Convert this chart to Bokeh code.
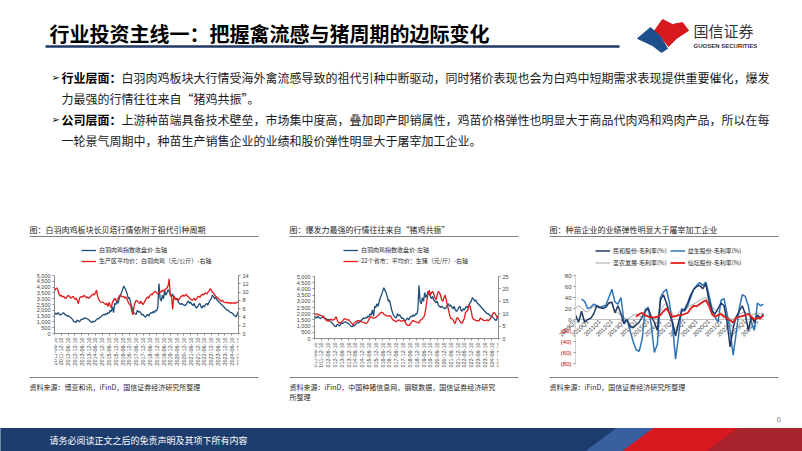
import math
from bokeh.plotting import figure
from bokeh.models import (Range1d, LinearAxis, FixedTicker, NumeralTickFormatter,
                          Legend, LegendItem, ColumnDataSource, LabelSet)
from bokeh.layouts import column, row
from bokeh.embed import file_html
from bokeh.resources import INLINE
from bokeh.core.properties import value

CJK = "Noto Sans CJK SC"
NUM = "Liberation Sans"

# ---------------- data ----------------
date_ticks = [0, 6, 12, 18, 24, 30, 36, 42, 48, 54, 60, 66, 72, 78, 84, 90, 96, 102,
              108, 114, 120, 126, 132, 138, 144, 150, 156, 162]
date_labels = ["2011-06-10", "2011-12-10", "2012-06-10", "2012-12-10", "2013-06-10", "2013-12-10",
               "2014-06-10", "2014-12-10", "2015-06-10", "2015-12-10", "2016-06-10", "2016-12-10",
               "2017-06-10", "2017-12-10", "2018-06-10", "2018-12-10", "2019-06-10", "2019-12-10",
               "2020-06-10", "2020-12-10", "2021-06-10", "2021-12-10", "2022-06-10", "2022-12-10",
               "2023-06-10", "2023-12-10", "2024-06-10", "2024-12-10"]

# monthly, 2011-06 .. 2024-12
broiler_index = [
    1600, 1750, 1650, 1800, 1700, 1600, 1650,
    1700, 1800, 1650, 1600, 1500, 1550, 1450, 1400, 1300, 1200, 1050, 1000,
    950, 1150, 1100, 1000, 1150, 1250, 1200, 1300, 1350, 1300, 1250, 1200,
    1100, 1000, 950, 1050, 1000, 1100, 1200, 1300, 1250, 1400, 1450, 1550,
    1650, 1600, 1700, 1650, 1800, 1750, 2000, 1900, 2300, 1800, 2600, 2500,
    2800, 2600, 3000, 3300, 3500, 3800, 4100, 3900, 3700, 3400, 3000, 3100,
    2700, 2300, 2000, 1800, 1700, 1650, 2000, 1850, 1900, 1750, 1600, 1650,
    1500, 1400, 1550, 1650, 1500, 1700, 1800, 1750, 1900, 1800, 2000, 1950,
    2300, 4300, 3000, 2800, 3300, 3000, 3700, 3300, 3500, 3800, 3600, 3400,
    3200, 3400, 3100, 3000, 2900, 3000, 2700, 2600, 2500, 2600, 2500, 2450,
    2400, 2500, 2700, 2800, 2600, 2700, 2500, 2400, 2600, 2300, 2200, 2300,
    2500, 2600, 2300, 2200, 2400, 2300, 2500, 2600, 2450, 2700, 2900, 3000,
    3300, 3200, 3000, 3100, 2900, 2800, 2700, 2600, 2500, 2400, 2300, 2200,
    2100, 2000, 2000, 1900, 1800, 1800, 1700, 1600, 1500, 1450, 1700, 1900]

broiler_price = [
    10.2, 10.8, 11.0, 10.5, 9.5, 9.0, 9.3,
    8.8, 9.0, 8.6, 8.5, 8.8, 9.2, 9.0, 8.7, 8.5, 9.0, 8.8, 8.2,
    8.5, 8.0, 7.2, 8.5, 8.8, 9.0, 8.8, 9.2, 9.0, 8.6, 8.8, 8.5,
    8.7, 9.0, 9.3, 9.5, 9.3, 9.8, 10.5, 9.0, 8.2, 7.8, 7.5, 7.6,
    7.5, 7.2, 7.0, 7.3, 6.5, 7.5, 6.8, 6.2, 7.5, 8.0, 8.5, 8.0,
    8.0, 8.5, 9.0, 9.3, 9.0, 8.8, 9.0, 8.5, 8.8, 8.2, 7.5, 7.0,
    6.8, 5.5, 4.5, 6.5, 7.5, 8.0, 7.8, 7.5, 7.2, 7.8, 7.3, 7.0,
    7.5, 8.0, 8.5, 8.8, 8.5, 9.2, 9.5, 9.3, 9.8, 10.0, 10.2, 9.8,
    9.5, 9.8, 10.2, 10.0, 10.5, 10.2, 10.5, 10.8, 11.0, 11.5, 13.2, 9.0,
    9.2, 5.8, 9.0, 8.6, 8.2, 8.5, 8.0, 8.3, 8.8, 9.0, 9.3, 9.0,
    9.2, 9.5, 9.0, 8.8, 8.5, 8.3, 8.0, 8.2, 8.5, 8.0, 8.3, 8.8,
    9.0, 8.7, 9.2, 9.5, 9.3, 9.6, 9.8, 9.5, 9.9, 10.3, 10.8, 10.5,
    10.0, 9.8, 9.3, 9.0, 8.7, 8.5, 8.2, 8.0, 7.8, 8.0, 7.6, 7.5,
    7.4, 7.6, 7.3, 7.5, 7.2, 7.4, 7.3, 7.5, 7.2, 7.4, 7.6, 7.8]

hog_price = [
    9.5, 9.8, 9.9, 9.7, 9.5, 9.3, 9.2,
    9.0, 8.6, 8.0, 7.5, 7.2, 7.0, 7.3, 7.8, 7.6, 7.4, 7.6, 8.0,
    8.8, 7.6, 6.5, 6.2, 6.4, 6.8, 7.2, 7.8, 8.0, 7.6, 7.5, 7.6,
    7.0, 6.5, 6.0, 5.5, 6.2, 6.6, 6.9, 7.2, 7.2, 7.0, 6.8, 6.6,
    6.5, 6.4, 6.0, 6.2, 6.8, 7.8, 8.6, 8.8, 8.4, 8.2, 8.3, 8.6,
    9.0, 9.3, 9.8, 10.3, 10.5, 10.4, 9.8, 9.5, 9.3, 9.0, 9.0, 9.2,
    9.0, 8.2, 7.5, 7.3, 7.0, 6.8, 7.2, 7.4, 7.4, 7.0, 7.0, 7.2,
    7.2, 6.5, 5.6, 5.4, 5.2, 5.5, 6.4, 7.0, 7.3, 6.9, 6.8, 6.6,
    6.5, 6.2, 7.3, 7.6, 8.0, 8.5, 9.5, 12.0, 15.5, 18.0, 19.5, 17.5,
    18.5, 19.0, 18.0, 16.5, 15.5, 17.5, 19.0, 18.5, 17.5, 15.5, 15.0, 16.5,
    17.5, 15.5, 13.5, 11.5, 9.5, 8.0, 8.0, 7.5, 6.5, 6.0, 8.0, 8.5,
    7.6, 7.0, 6.3, 6.2, 7.2, 8.2, 10.5, 11.0, 11.5, 13.5, 13.0, 11.0,
    8.5, 7.7, 7.5, 7.3, 7.2, 7.0, 7.3, 8.2, 8.0, 7.6, 7.3, 7.2,
    7.3, 7.5, 7.2, 7.5, 8.0, 9.0, 10.0, 10.5, 10.0, 9.2, 8.4, 8.0]

# quarterly 2009Q1 .. 2024Q3, gross margin (%)
quarter_ticks = [0, 4, 8, 12, 16, 20, 24, 28, 32, 36, 40, 44, 48, 52, 56, 60]
quarter_labels = ["2009Q1", "2010Q1", "2011Q1", "2012Q1", "2013Q1", "2014Q1", "2015Q1", "2016Q1",
                  "2017Q1", "2018Q1", "2019Q1", "2020Q1", "2021Q1", "2022Q1", "2023Q1", "2024Q1"]
NaN = float("nan")
minhe = [8, -5, 15, -5, 0, 2, 10, 25, 22, 20, 22, 30, 32, 12, 25, 10, -8, 0, -12, -15,
         -10, -5, 5, 15, 20, 5, -5, -20, 35, 45, 30, 10, -5, -30, -5, 15, 18, 30, 45, 55,
         60, 62, 56, 65, 35, 15, 10, 20, 30, 25, -5, -50, -15, 5, 15, 25, 10, -20, 5, -5,
         8, 3, 10]
yisheng = [NaN, NaN, 37, 33, 20, 22, 28, 25, 22, 24, 26, 40, 55, 32, 28, 40, -5, 0, -20, -40,
           -55, -58, -35, 18, 22, -10, -60, -45, 40, 50, 55, 30, -10, -72, -30, 20, 15, 25, 40, 55,
           62, 67, 62, 68, 45, 20, 5, -5, 35, 38, 10, -20, -65, -25, 20, 45, 42, 25, -5, -20,
           30, 25, 28]
shengnong = [20, 25, 22, 15, 14, 20, 24, 22, 20, 22, 25, 30, 28, 15, 12, 8, 3, 0, 3, 8,
             10, 7, 4, 6, 8, 5, 2, 0, 15, 25, 30, 20, 10, 5, 12, 18, 20, 22, 26, 28,
             32, 35, 38, 40, 30, 22, 18, 15, 12, 8, 5, 2, 0, 5, 10, 12, 14, 10, 8, 10,
             12, 10, 12]
xiantan = [NaN] * 20 + [5, 10, 12, 8, 5, 4, 4, 5, 8, 15, 20, 12, 5, 6, 8, 8, 10, 12, 20, 25,
                        24, 28, 32, 35, 25, 10, 5, 8, 10, 5, 2, -2, -5, 3, 5, 6, 8, 10, 5, 0,
                        3, 2, 8]
margin_ticks = [-80, -60, -40, -20, 0, 20, 40, 60, 80]

# ---------------- styles / layout ----------------
BLUE = "#1f4e79"
RED = "#e31a1c"
AX = "#8c8c8c"
TXT = "#262626"
ROW_Y = 242
ROW_H = 133
# Bokeh aligns the frames of the plots in a row, so all three share one frame
FR_TOP = 245
FR_BOT = 367
BT = FR_TOP - ROW_Y
BB = ROW_Y + ROW_H - FR_BOT
FR_H = FR_BOT - FR_TOP


def blank(width, height, y0):
    p = figure(width=width, height=height, x_range=Range1d(0, width),
               y_range=Range1d(y0 + height, y0), x_axis_location=None, y_axis_location=None,
               toolbar_location=None, output_backend="svg", min_border=0,
               outline_line_color=None)
    p.grid.visible = False
    return p


def txt(p, x, y, s, size, color="#000000", bold=False, font=CJK, align="left"):
    p.text(x=[x], y=[y], text=[s], text_font=value(font), text_font_size=size,
           text_color=color, text_font_style="bold" if bold else "normal",
           text_baseline="middle", text_align=align)


def style_axis(a, size="5.5px"):
    a.axis_line_color = AX
    a.major_tick_line_color = AX
    a.major_tick_out = 2
    a.major_tick_in = 0
    a.minor_tick_line_color = None
    a.major_label_text_font = NUM
    a.major_label_text_font_size = size
    a.major_label_text_color = "#404040"
    a.major_label_standoff = 2


def span_range(lo, hi, px_lo, px_hi):
    """Value range of the whole frame when lo sits at pixel px_lo and hi at px_hi (page y)."""
    per_px = (hi - lo) / (px_lo - px_hi)
    return lo - (FR_BOT - px_lo) * per_px, hi + (px_hi - FR_TOP) * per_px


def dual_chart(red_vals, red_max, red_step, left_label, red_label, width, bl, br, d_top, d_bot, leg_x):
    n = len(broiler_index)
    xs = list(range(n))
    y0, y1 = span_range(0, 5000, d_bot, d_top)
    r0, r1_ = span_range(0, red_max, d_bot, d_top)
    p = figure(width=width, height=ROW_H, x_range=Range1d(0, n - 1), y_range=Range1d(y0, y1),
               toolbar_location=None, output_backend="svg", min_border_left=bl,
               min_border_right=br, min_border_top=BT, min_border_bottom=BB,
               outline_line_color=None)
    p.grid.visible = False
    p.extra_y_ranges = {"r": Range1d(r0, r1_)}
    # date labels under the axis
    per_px = 5000 / (d_bot - d_top)
    p.text(x=date_ticks, y=[-4 * per_px] * len(date_ticks), text=date_labels, angle=math.pi / 2,
           text_align="right", text_baseline="middle", text_font=value(NUM),
           text_font_size="5.5px", text_color="#404040")
    r1 = p.line(xs, broiler_index, line_color=BLUE, line_width=1.3)
    r2 = p.line(xs, red_vals, line_color=RED, line_width=1.3, y_range_name="r")
    ax = p.yaxis[0]
    ax.ticker = FixedTicker(ticks=list(range(0, 5001, 500)))
    ax.formatter = NumeralTickFormatter(format="0,0")
    ax.bounds = (0, 5000)
    style_axis(ax)
    rax = LinearAxis(y_range_name="r", ticker=FixedTicker(ticks=list(range(0, red_max + 1, red_step))),
                     bounds=(0, red_max))
    style_axis(rax)
    p.add_layout(rax, "right")
    xa = p.xaxis[0]
    xa.ticker = FixedTicker(ticks=date_ticks)
    xa.fixed_location = 0
    style_axis(xa)
    xa.major_label_overrides = {t: "" for t in date_ticks}
    xa.major_label_text_font_size = "0px"
    xa.major_label_standoff = 0
    leg = Legend(items=[LegendItem(label=left_label, renderers=[r1]),
                        LegendItem(label=red_label, renderers=[r2])],
                 location=(leg_x, FR_BOT - 265), orientation="vertical", padding=0, margin=0,
                 spacing=2, glyph_width=15, glyph_height=8, label_height=8, label_standoff=3,
                 label_text_font=CJK, label_text_font_size="6px", label_text_color=TXT,
                 border_line_color=None, background_fill_alpha=0)
    p.add_layout(leg)
    return p


# ---------------- header ----------------
hdr = blank(802, ROW_Y, 0)
txt(hdr, 49, 33, "行业投资主线一：把握禽流感与猪周期的边际变化", "20px", bold=True)
hdr.line([45, 619], [46, 46], line_color="#1f3864", line_width=2.5)
hdr.patch([652, 662, 672, 682, 688, 676, 668, 661], [33, 19, 24, 22, 30, 38, 46, 37], color="#d7191f")
hdr.patch([637, 650, 660, 667, 661, 652], [38, 27, 36, 48, 52, 45], color="#1f4e8c")
txt(hdr, 693, 30, "国信证券", "15px", color="#333333")
txt(hdr, 693, 45, "GUOSEN SECURITIES", "6px", color="#333333", bold=True, font=NUM)

FS = 12
bullets = [
    (77, True, "行业层面：", "白羽肉鸡板块大行情受海外禽流感导致的祖代引种中断驱动，同时猪价表现也会为白鸡中短期需求表现提供重要催化，爆发"),
    (98, False, "", "力最强的行情往往来自“猪鸡共振”。"),
    (119, True, "公司层面：", "上游种苗端具备技术壁垒，市场集中度高，叠加即产即销属性，鸡苗价格弹性也明显大于商品代肉鸡和鸡肉产品，所以在每"),
    (140, False, "", "一轮景气周期中，种苗生产销售企业的业绩和股价弹性明显大于屠宰加工企业。"),
]
for y, has_bullet, head, body in bullets:
    x = 61
    if has_bullet:
        txt(hdr, 51, y, "➢", "10px", font="DejaVu Sans")
        txt(hdr, x, y, head, f"{FS}px", bold=True)
        x += FS * len(head)
    txt(hdr, x, y, body, f"{FS}px", color="#1a1a1a")

chart_titles = ["图：白羽肉鸡板块长贝塔行情依附于祖代引种周期",
                "图：爆发力最强的行情往往来自“猪鸡共振”",
                "图：种苗企业的业绩弹性明显大于屠宰加工企业"]
panel_x = [29, 289, 549]
for x0, t in zip(panel_x, chart_titles):
    txt(hdr, x0, 229, t, "8px", color=TXT)
    hdr.line([x0, x0 + 229], [236, 236], line_color="#808080", line_width=1)

# ---------------- charts ----------------
p1 = dual_chart(broiler_price, 14, 2, "白羽肉鸡指数收盘价-左轴", "生产区平均价：白羽肉鸡（元/公斤）-右轴",
                262, 54, 24, 275, 333, 27)
p2 = dual_chart(hog_price, 25, 5, "白羽肉鸡指数收盘价-左轴", "22个省市：平均价：生猪（元/斤）-右轴",
                260, 52, 24, 276, 338, 29)

# chart 3: frame extends left (room for the red negative labels)
n_q = len(minhe)
bl3, br3 = 26, 36
frame_w3 = 280 - bl3 - br3
data_w3 = 191
px_per_q = data_w3 / n_q
m0, m1 = span_range(-80, 80, 363, 275)
p3 = figure(width=280, height=ROW_H,
            x_range=Range1d(-(frame_w3 - data_w3) / px_per_q, n_q),
            y_range=Range1d(m0, m1),
            toolbar_location=None, output_backend="svg", x_axis_location=None,
            min_border_left=bl3, min_border_right=br3, min_border_top=BT, min_border_bottom=BB,
            outline_line_color=None)
p3.grid.visible = False
qx = list(range(n_q))
p3.line([qx[0], qx[-1]], [0, 0], line_color="#bfbfbf", line_width=1)
p3.text(x=quarter_ticks, y=[-2] * len(quarter_ticks), text=quarter_labels, angle=math.pi / 4,
        text_align="right", text_baseline="middle", text_font=value(NUM),
        text_font_size="6px", text_color="#404040")
ra = p3.line(qx, shengnong, line_color="#a6a6a6", line_width=1.0)
rb = p3.line(qx, yisheng, line_color="#2e75b6", line_width=1.5)
rc = p3.line(qx, minhe, line_color="#1f3864", line_width=1.5)
rd = p3.line(qx, xiantan, line_color="#e0201b", line_width=1.8)
ay = p3.yaxis[0]
ay.ticker = FixedTicker(ticks=margin_ticks)
ay.major_label_overrides = {t: ("" if t < 0 else str(t)) for t in margin_ticks}
ay.fixed_location = 0
ay.bounds = (-80, 80)
style_axis(ay, "6px")
ay.axis_line_color = "#d0d0d0"
neg = [t for t in margin_ticks if t < 0]
neg_src = ColumnDataSource(dict(x=[-4 / px_per_q] * len(neg), y=neg, text=[f"({-t})" for t in neg]))
p3.add_layout(LabelSet(x="x", y="y", text="text", source=neg_src,
                       text_align="right", text_baseline="middle", text_font=value(NUM),
                       text_font_size="6px", text_color="#c00000"))
legend_kw = dict(orientation="horizontal", padding=0, margin=0, spacing=3, glyph_width=15,
                 glyph_height=9, label_height=9, label_standoff=3, label_text_font=CJK,
                 label_text_font_size="6px", label_text_color=TXT, border_line_color=None,
                 background_fill_alpha=0)
lx = (frame_w3 - data_w3) + 20
p3.add_layout(Legend(items=[LegendItem(label="民和股份-毛利率(%)", renderers=[rc]),
                            LegendItem(label="益生股份-毛利率(%)", renderers=[rb])],
                     location=(lx, FR_BOT - 254.5), **legend_kw))
p3.add_layout(Legend(items=[LegendItem(label="圣农发展-毛利率(%)", renderers=[ra]),
                            LegendItem(label="仙坛股份-毛利率(%)", renderers=[rd])],
                     location=(lx, FR_BOT - 266.5), **legend_kw))

# ---------------- footer ----------------
FY = ROW_Y + ROW_H
ftr = blank(802, 451 - FY, FY)
sources = [["资料来源：博亚和讯，iFinD，国信证券经济研究所整理"],
           ["资料来源：iFinD，中国种猪信息网，钢联数据，国信证券经济研究", "所整理"],
           ["资料来源：iFinD，国信证券经济研究所整理"]]
for x0, lines in zip(panel_x, sources):
    ftr.line([x0, x0 + 229], [377, 377], line_color="#808080", line_width=1.2)
    for k, s in enumerate(lines):
        txt(ftr, x0, 386 + 10 * k, s, "7px", color=TXT)
txt(ftr, 776, 419, "6", "8px", color="#8c8c8c", font=NUM)
ftr.patch([0, 802, 802, 0], [428, 428, 451, 451], color="#1d3c6e")
ftr.patch([585, 616, 660, 629], [451, 428, 428, 451], color="#3a5f9e")
ftr.patch([622, 653, 745, 714], [451, 428, 428, 451], color="#d71920")
ftr.patch([706, 737, 802, 802], [451, 428, 428, 451], color="#a8232c")
txt(ftr, 49, 440, "请务必阅读正文之后的免责声明及其项下所有内容", "9px", color="#ffffff")

layout = column(hdr, row(p1, p2, p3), ftr)
open("out.html", "w").write(file_html(layout, INLINE))
